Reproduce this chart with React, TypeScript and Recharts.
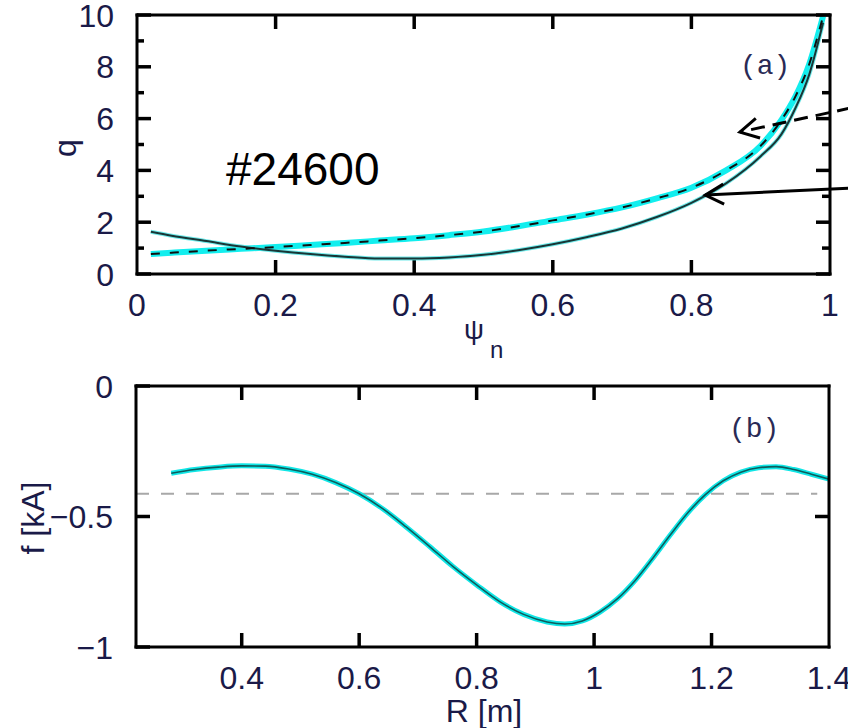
import { LineChart, Line, XAxis, YAxis, ReferenceLine } from "recharts";

// (a) safety factor profiles vs normalised flux
const psiN = [0.02, 0.05, 0.1, 0.15, 0.2, 0.25, 0.3, 0.35, 0.4, 0.45, 0.5, 0.55, 0.6, 0.65, 0.7, 0.75, 0.8, 0.85, 0.9, 0.93, 0.95, 0.97, 0.99];
const qDashed = [0.77, 0.82, 0.9, 0.97, 1.04, 1.12, 1.2, 1.29, 1.38, 1.5, 1.64, 1.84, 2.07, 2.3, 2.57, 2.92, 3.33, 4.0, 4.95, 5.95, 6.85, 8.1, 9.95];
const qSolid = [1.63, 1.48, 1.27, 1.06, 0.9, 0.77, 0.67, 0.6, 0.6, 0.64, 0.74, 0.92, 1.15, 1.43, 1.76, 2.2, 2.75, 3.5, 4.55, 5.4, 6.4, 7.7, 9.7];

// (b) f vs major radius
const radius = [0.28, 0.32, 0.36, 0.4, 0.44, 0.48, 0.52, 0.56, 0.6, 0.64, 0.68, 0.72, 0.76, 0.8, 0.84, 0.88, 0.92, 0.95, 0.98, 1.01, 1.04, 1.07, 1.1, 1.13, 1.16, 1.19, 1.22, 1.25, 1.28, 1.31, 1.34, 1.37, 1.4];
const fCurrent = [-0.334, -0.32, -0.311, -0.306, -0.307, -0.318, -0.338, -0.37, -0.413, -0.47, -0.54, -0.615, -0.692, -0.762, -0.827, -0.875, -0.904, -0.912, -0.9, -0.866, -0.815, -0.745, -0.66, -0.57, -0.485, -0.415, -0.363, -0.33, -0.313, -0.309, -0.32, -0.338, -0.357];
const fLevel = -0.413;

const psiTicks = [0, 0.2, 0.4, 0.6, 0.8, 1];
const psiInner = [0.2, 0.4, 0.6, 0.8];
const qTicks = [0, 1, 2, 3, 4, 5, 6, 7, 8, 9, 10]; // odd ones are minor, unlabeled
const rTicks = [0.4, 0.6, 0.8, 1, 1.2, 1.4];
const rInner = [0.4, 0.6, 0.8, 1, 1.2];
const fTicks = [-1, -0.5, 0];

const qData = psiN.map((p, i) => ({ psi: p, dashed: qDashed[i], solid: qSolid[i] }));
const fData = radius.map((r, i) => ({ r, f: fCurrent[i] }));

const FONT = '"Liberation Sans", Arial, sans-serif';
const MONO = '"Liberation Mono", "Courier New", monospace';
const INK = "#1a1a48";
const FS = 32;
const frame = { stroke: "#000", strokeWidth: 3, strokeLinecap: "square" as const };
const TICK = 14;
const MINOR = 7;
const BOTTOM_GAP = 19;
const LEFT_GAP = 23;

const minus = (v: number) => String(v).replace("-", "\u2212");
const isMinor = (v: number) => Number.isInteger(v) && v % 2 !== 0 && v > 0 && v < 10;

const bottomLabel = (p: any) => (
  <text x={p.x} y={p.y} dy="0.71em" textAnchor="middle" fontSize={FS} fontFamily={FONT} fill={INK}>
    {minus(p.payload.value)}
  </text>
);

// y ticks point inward, MATLAB style; labels sit outside
const leftTick = (p: any) => {
  const v = p.payload.value;
  const ax = p.x + LEFT_GAP;
  const minor = isMinor(v);
  return (
    <g>
      <line x1={ax} y1={p.y} x2={ax + (minor ? MINOR : TICK)} y2={p.y} stroke="#000" strokeWidth={3.5} />
      {!minor && (
        <text x={p.x} y={p.y} dy="0.36em" textAnchor="end" fontSize={FS} fontFamily={FONT} fill={INK}>
          {minus(v)}
        </text>
      )}
    </g>
  );
};

const rightTick = (p: any) => {
  const minor = isMinor(p.payload.value);
  return <line x1={p.x} y1={p.y} x2={p.x - (minor ? MINOR + 1 : TICK)} y2={p.y} stroke="#000" strokeWidth={3.5} />;
};

// a vertical reference line at an x tick, drawn only as two short inward stubs
const tickPair = (props: any) => {
  const { x1, y1, y2 } = props;
  const top = Math.min(y1, y2);
  const bot = Math.max(y1, y2);
  return (
    <g>
      <line x1={x1} y1={bot} x2={x1} y2={bot - TICK} stroke="#000" strokeWidth={3.5} />
      <line x1={x1} y1={top} x2={x1} y2={top + TICK} stroke="#000" strokeWidth={3.5} />
    </g>
  );
};

function arrow(dashed: boolean) {
  return (props: any) => {
    const { x1, y1, x2, y2 } = props;
    const a = Math.atan2(y1 - y2, x1 - x2);
    const len = 21;
    const s = 0.5;
    const p1 = `${x2 + len * Math.cos(a - s)},${y2 + len * Math.sin(a - s)}`;
    const p2 = `${x2 + len * Math.cos(a + s)},${y2 + len * Math.sin(a + s)}`;
    return (
      <g>
        <line x1={x1} y1={y1} x2={x2} y2={y2} stroke="#000" strokeWidth={3} strokeDasharray={dashed ? "14 8" : undefined} />
        <polyline points={`${p1} ${x2},${y2} ${p2}`} fill="none" stroke="#000" strokeWidth={3} />
      </g>
    );
  };
}

// axes get 1px width/height (0 would not render); margins make up the rest
// top plot area: x 137..830, y 15..274 on the page
function QPanel() {
  return (
    <LineChart width={848} height={390} data={qData} margin={{ top: 34, right: 17, bottom: 95, left: 136 }}>
      <XAxis dataKey="psi" type="number" domain={[0, 1]} ticks={psiTicks} interval={0} height={1}
        tickSize={0} tickMargin={BOTTOM_GAP} tick={bottomLabel} axisLine={frame} tickLine={false} />
      <XAxis xAxisId="top" dataKey="psi" orientation="top" type="number" domain={[0, 1]} height={1}
        tick={false} axisLine={frame} tickLine={false} />
      <YAxis type="number" domain={[0, 10]} ticks={qTicks} interval={0} width={1}
        tickSize={0} tickMargin={LEFT_GAP} tick={leftTick} axisLine={frame} tickLine={false} />
      <YAxis yAxisId="right" orientation="right" type="number" domain={[0, 10]} ticks={qTicks} interval={0} width={1}
        tickSize={0} tickMargin={0} tick={rightTick} axisLine={frame} tickLine={false} allowDataOverflow />
      {psiInner.map((v) => (
        <ReferenceLine key={`qt${v}`} x={v} ifOverflow="visible" shape={tickPair} />
      ))}
      <Line dataKey="dashed" type="monotone" stroke="#12eeee" strokeWidth={6} dot={false} isAnimationActive={false} />
      <Line dataKey="solid" type="monotone" stroke="#3fe3e3" strokeWidth={4} strokeOpacity={0.75} dot={false} isAnimationActive={false} />
      <Line dataKey="solid" type="monotone" stroke="#183636" strokeWidth={2} dot={false} isAnimationActive={false} />
      <Line dataKey="dashed" type="monotone" stroke="#111" strokeWidth={2} strokeDasharray="9 10" dot={false} isAnimationActive={false} />
      <ReferenceLine segment={[{ x: 1.03, y: 6.41 }, { x: 0.87, y: 5.48 }]} ifOverflow="visible" shape={arrow(true)} />
      <ReferenceLine segment={[{ x: 1.03, y: 3.32 }, { x: 0.82, y: 3.05 }]} ifOverflow="visible" shape={arrow(false)} />
    </LineChart>
  );
}

// bottom plot area: x 136..829, y 386..647 on the page
function FPanel() {
  return (
    <LineChart width={848} height={378} data={fData} margin={{ top: 35, right: 18, bottom: 80, left: 135 }}>
      <XAxis dataKey="r" type="number" domain={[0.22, 1.4]} ticks={rTicks} interval={0} height={1}
        tickSize={0} tickMargin={BOTTOM_GAP} tick={bottomLabel} axisLine={frame} tickLine={false} allowDataOverflow />
      <XAxis xAxisId="top" dataKey="r" orientation="top" type="number" domain={[0.22, 1.4]} height={1}
        tick={false} axisLine={frame} tickLine={false} allowDataOverflow />
      <YAxis type="number" domain={[-1, 0]} ticks={fTicks} interval={0} width={1}
        tickSize={0} tickMargin={LEFT_GAP} tick={leftTick} axisLine={frame} tickLine={false} />
      <YAxis yAxisId="right" orientation="right" type="number" domain={[-1, 0]} ticks={[-0.5]} interval={0} width={1}
        tickSize={0} tickMargin={0} tick={rightTick} axisLine={frame} tickLine={false} allowDataOverflow />
      {rInner.map((v) => (
        <ReferenceLine key={`ft${v}`} x={v} ifOverflow="visible" shape={tickPair} />
      ))}
      <ReferenceLine segment={[{ x: 0.22, y: fLevel }, { x: 1.38, y: fLevel }]} stroke="#a8a8a8" strokeWidth={2} strokeDasharray="13 12" />
      <Line dataKey="f" type="monotone" stroke="#10e6e6" strokeWidth={5} dot={false} isAnimationActive={false} />
      <Line dataKey="f" type="monotone" stroke="#0d5c5c" strokeWidth={1.6} dot={false} isAnimationActive={false} />
    </LineChart>
  );
}

export default function App() {
  return (
    <div style={{ position: "absolute", left: 0, top: 0, width: 848, height: 728, background: "#fff", overflow: "hidden" }}>
      <div style={{ position: "absolute", left: 0, top: -20 }}>
        <QPanel />
      </div>
      <div style={{ position: "absolute", left: 0, top: 350 }}>
        <FPanel />
      </div>
      <svg width={848} height={728} style={{ position: "absolute", left: 0, top: 0, pointerEvents: "none" }}>
        <text transform="translate(76,148) rotate(-90)" textAnchor="middle" fontSize={FS} fontFamily={FONT} fill={INK}>q</text>
        <text x={464} y={339} fontSize={28} fontFamily={FONT} fill={INK}>ψ</text>
        <text x={490} y={358} fontSize={24} fontFamily={FONT} fill={INK}>n</text>
        <text x={226} y={185} fontSize={46} fontFamily={FONT} fill="#000">#24600</text>
        <text x={740} y={74} fontSize={28} fontFamily={MONO} fill="#2a2a55">(a)</text>
        <text transform="translate(44,518) rotate(-90)" textAnchor="middle" fontSize={FS} fontFamily={FONT} fill={INK}>f [kA]</text>
        <text x={484} y={722} textAnchor="middle" fontSize={FS} fontFamily={FONT} fill={INK}>R [m]</text>
        <text x={729} y={437} fontSize={28} fontFamily={MONO} fill="#2a2a55">(b)</text>
      </svg>
    </div>
  );
}
